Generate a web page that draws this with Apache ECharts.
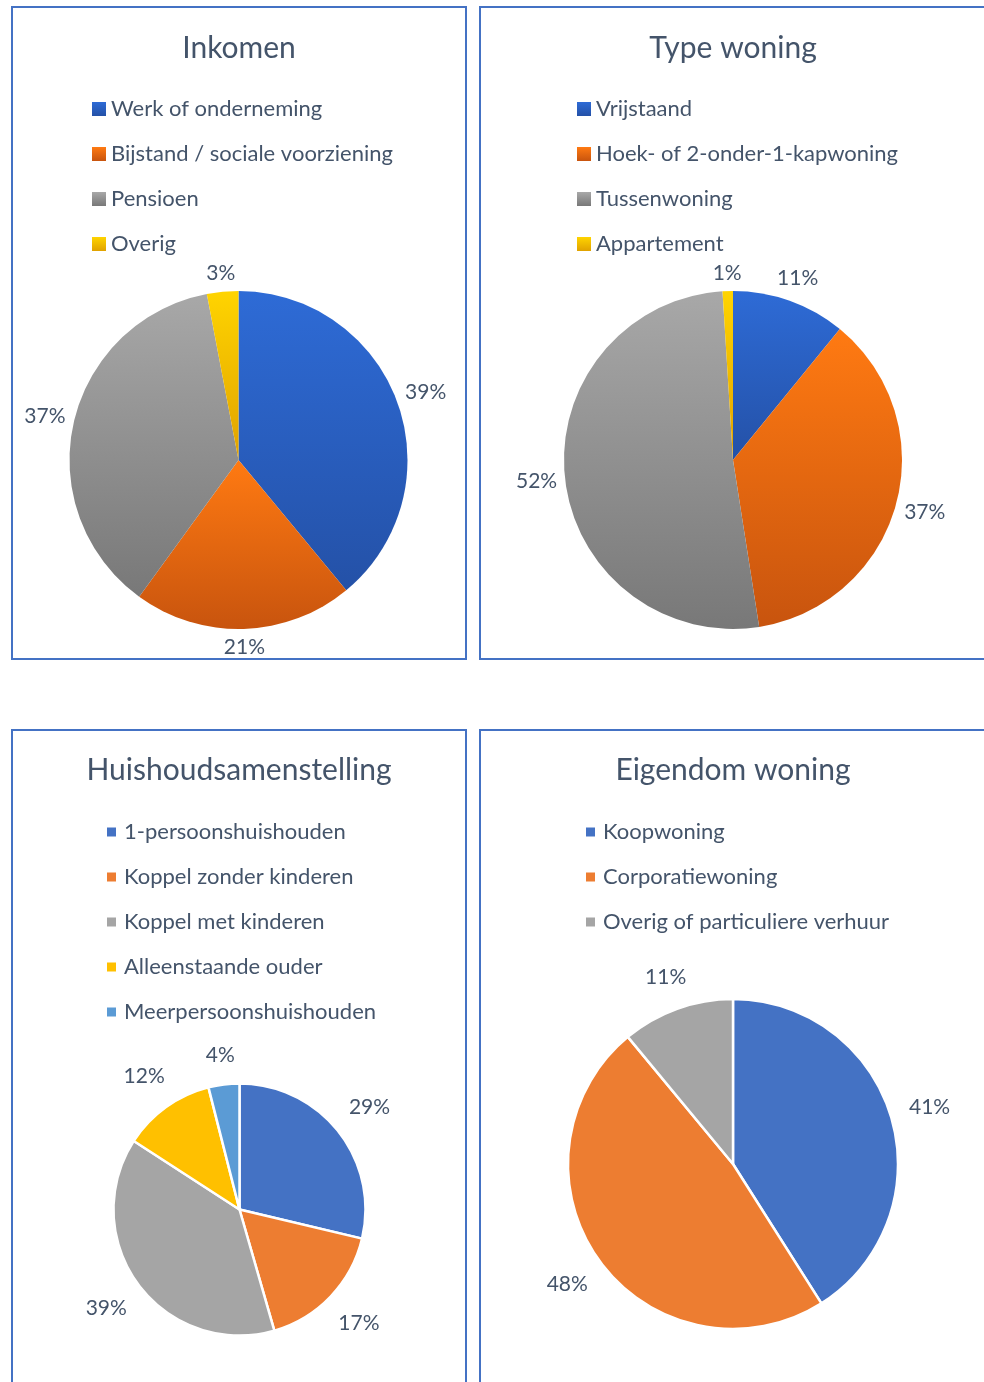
<!DOCTYPE html>
<html>
<head>
<meta charset="utf-8">
<script src="https://cdn.jsdelivr.net/npm/echarts@6/dist/echarts.min.js"></script>
<style>
  html, body { margin: 0; padding: 0; background: #fff; overflow: hidden; }
  #main { width: 984px; height: 1382px; }
</style>
</head>
<body>
<div id="main"></div>
<script>
// Inkomen
const inkomenNames = ['Werk of onderneming', 'Bijstand / sociale voorziening', 'Pensioen', 'Overig'];
const inkomenValues = [39, 21, 37, 3];
// Type woning
const typeNames = ['Vrijstaand', 'Hoek- of 2-onder-1-kapwoning', 'Tussenwoning', 'Appartement'];
const typeValues = [11, 37, 52, 1];
// Huishoudsamenstelling
const huisNames = ['1-persoonshuishouden', 'Koppel zonder kinderen', 'Koppel met kinderen', 'Alleenstaande ouder', 'Meerpersoonshuishouden'];
const huisValues = [29, 17, 39, 12, 4];
// Eigendom woning
const eigNames = ['Koopwoning', 'Corporatiewoning', 'Overig of particuliere verhuur'];
const eigValues = [41, 48, 11];

const textColor = '#44546A';
const fontFamily = 'Lato';
const gradColors = [['#2E6BD6', '#2451A7'], ['#FF7A12', '#C8540E'], ['#A8A8A8', '#787878'], ['#FFD400', '#E0A200']];
const flatColors = ['#4472C4', '#ED7D31', '#A5A5A5', '#FFC000', '#5B9BD5'];

function gradient(c) {
  return new echarts.graphic.LinearGradient(0, 0, 0, 1, [
    {offset: 0, color: c[0]},
    {offset: 1, color: c[1]}
  ]);
}

// put each label just outside the circle, in the direction of the slice middle
function outsideLabels(values, cx, cy, r, gap) {
  const total = values.reduce((a, b) => a + b, 0);
  return function (p) {
    let before = 0;
    for (let i = 0; i < p.dataIndex; i++) before += values[i];
    const a = (before + values[p.dataIndex] / 2) / total * 2 * Math.PI;
    const s = Math.sin(a), c = Math.cos(a);
    const d = r + Math.abs(s) * p.labelRect.width / 2 + Math.abs(c) * p.labelRect.height / 2 + gap;
    return {x: cx + d * s, y: cy - d * c, align: 'center', verticalAlign: 'middle'};
  };
}

function pie(names, values, cx, cy, r, gap, colorFn, border) {
  return {
    type: 'pie',
    center: [cx, cy],
    radius: r,
    startAngle: 90,
    clockwise: true,
    avoidLabelOverlap: false,
    data: names.map((n, i) => ({name: n, value: values[i], itemStyle: {color: colorFn(i)}})),
    itemStyle: border ? {borderColor: '#fff', borderWidth: 2.5} : {borderWidth: 0},
    label: {
      position: 'outside',
      formatter: '{c}%',
      color: textColor,
      fontFamily: fontFamily,
      fontSize: 21
    },
    labelLine: {show: false},
    labelLayout: outsideLabels(values, cx, cy, r, gap),
    emphasis: {disabled: true}
  };
}

function legend(names, left, top, size, textGap) {
  return {
    orient: 'vertical',
    left: left,
    top: top,
    padding: 0,
    data: names,
    icon: 'rect',
    itemWidth: size,
    itemHeight: size,
    itemGap: 21,
    selectedMode: false,
    itemStyle: {borderWidth: 0},
    textStyle: {color: textColor, fontFamily: fontFamily, fontSize: 22, lineHeight: 24, padding: [0, 0, 0, textGap]}
  };
}

function title(text, x, y) {
  return {
    text: text,
    left: x,
    top: y,
    textAlign: 'center',
    padding: 0,
    textStyle: {color: textColor, fontFamily: fontFamily, fontSize: 30, fontWeight: 'normal'}
  };
}

const Chart = echarts.init(document.getElementById('main'));
let option = {
  animation: false,
  backgroundColor: '#fff',
  title: [
    title('Inkomen', 239, 33),
    title('Type woning', 733, 33),
    title('Huishoudsamenstelling', 239, 755),
    title('Eigendom woning', 733, 755)
  ],
  legend: [
    legend(inkomenNames, 92, 97, 14, 0),
    legend(typeNames, 577, 97, 14, 0),
    legend(huisNames, 107, 820, 9, 3),
    legend(eigNames, 586, 820, 9, 3)
  ],
  graphic: [
    {type: 'rect', shape: {x: 12, y: 7, width: 454, height: 652}, style: {fill: 'none', stroke: '#4472C4', lineWidth: 2}},
    {type: 'rect', shape: {x: 480, y: 7, width: 520, height: 652}, style: {fill: 'none', stroke: '#4472C4', lineWidth: 2}},
    {type: 'rect', shape: {x: 12, y: 730, width: 454, height: 700}, style: {fill: 'none', stroke: '#4472C4', lineWidth: 2}},
    {type: 'rect', shape: {x: 480, y: 730, width: 520, height: 700}, style: {fill: 'none', stroke: '#4472C4', lineWidth: 2}}
  ],
  series: [
    pie(inkomenNames, inkomenValues, 238.5, 460, 169, 7, i => gradient(gradColors[i]), false),
    pie(typeNames, typeValues, 733, 460, 169, 7, i => gradient(gradColors[i]), false),
    pie(huisNames, huisValues, 239.5, 1209.5, 126, 17, i => flatColors[i], true),
    pie(eigNames, eigValues, 733, 1164, 165, 17, i => flatColors[i], true)
  ]
};
Chart.setOption(option);
</script>
</body>
</html>
